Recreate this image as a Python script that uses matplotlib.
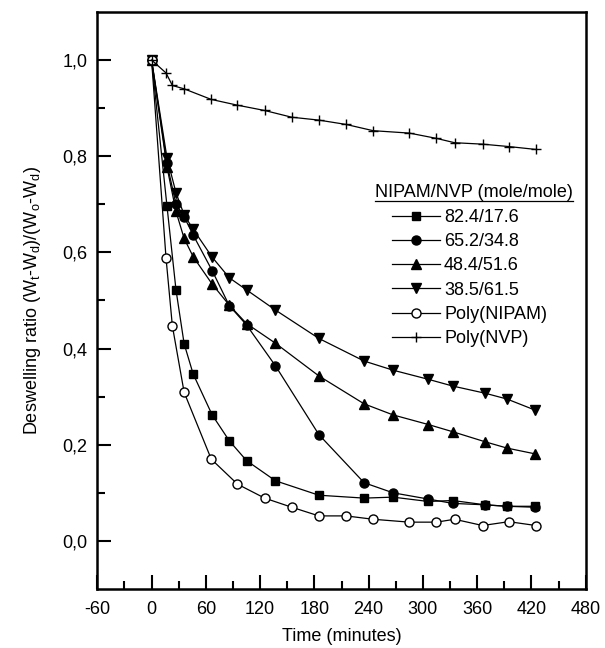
import matplotlib
matplotlib.use("Agg")
import matplotlib.pyplot as plt
from matplotlib.ticker import FixedLocator, FuncFormatter

plt.rcParams['font.family'] = ['Liberation Sans', 'DejaVu Sans']
plt.rcParams['font.size'] = 13

# copolymer sampling times (minutes)
t_co = [0, 17, 27, 36, 46, 67, 86, 105, 137, 185, 235, 267, 306, 333, 369, 393, 424]
# homopolymer sampling times (minutes)
t_homo = [0, 16, 23, 36, 66, 95, 125, 155, 185, 215, 245, 285, 315, 335, 366, 395, 425]

r_82 = [1.0, 0.697, 0.522, 0.410, 0.347, 0.262, 0.208, 0.167, 0.125, 0.095, 0.089, 0.091,
        0.082, 0.084, 0.075, 0.072, 0.072]
r_65 = [1.0, 0.785, 0.70, 0.674, 0.636, 0.562, 0.489, 0.449, 0.364, 0.221, 0.121, 0.100,
        0.087, 0.078, 0.075, 0.072, 0.070]
r_48 = [1.0, 0.778, 0.685, 0.629, 0.591, 0.534, 0.490, 0.452, 0.411, 0.343, 0.285, 0.262,
        0.242, 0.227, 0.206, 0.193, 0.181]
r_38 = [1.0, 0.797, 0.724, 0.678, 0.648, 0.590, 0.547, 0.522, 0.480, 0.421, 0.374, 0.355,
        0.336, 0.322, 0.307, 0.295, 0.272]
r_pnipam = [1.0, 0.588, 0.447, 0.309, 0.170, 0.118, 0.089, 0.070, 0.052, 0.052, 0.045,
            0.039, 0.039, 0.045, 0.032, 0.040, 0.032]
r_pnvp = [1.0, 0.973, 0.947, 0.940, 0.918, 0.906, 0.895, 0.881, 0.875, 0.866, 0.853,
          0.848, 0.837, 0.828, 0.825, 0.820, 0.814]

labels = ['82.4/17.6', '65.2/34.8', '48.4/51.6', '38.5/61.5', 'Poly(NIPAM)', 'Poly(NVP)']
legend_title = 'NIPAM/NVP (mole/mole)'

x_major = [-60, 0, 60, 120, 180, 240, 300, 360, 420, 480]
x_minor = [-30, 30, 90, 150, 210, 270, 330, 390, 450]
y_major = [0.0, 0.2, 0.4, 0.6, 0.8, 1.0]
y_minor = [0.1, 0.3, 0.5, 0.7, 0.9]

fig = plt.figure(figsize=(6.05, 6.48), dpi=100)
ax = fig.add_axes([97.3 / 605, 1 - 589 / 648, 488.4 / 605, 577.1 / 648])

lw = 0.9
ax.plot(t_co, r_82, '-', color='black', lw=lw, marker='s', ms=5.5, mfc='black', mec='black', label=labels[0])
ax.plot(t_co, r_65, '-', color='black', lw=lw, marker='o', ms=6.5, mfc='black', mec='black', label=labels[1])
ax.plot(t_co, r_48, '-', color='black', lw=lw, marker='^', ms=7.5, mfc='black', mec='black', label=labels[2])
ax.plot(t_co, r_38, '-', color='black', lw=lw, marker='v', ms=7.5, mfc='black', mec='black', label=labels[3])
ax.plot(t_homo, r_pnipam, '-', color='black', lw=lw, marker='o', ms=6.5, mfc='white', mec='black', mew=1.0, label=labels[4])
ax.plot(t_homo, r_pnvp, '-', color='black', lw=lw, marker='+', ms=7, mec='black', mew=1.0, label=labels[5])

ax.set_xlim(-60, 480)
ax.set_ylim(-0.1, 1.1)
ax.xaxis.set_major_locator(FixedLocator(x_major))
ax.xaxis.set_minor_locator(FixedLocator(x_minor))
ax.yaxis.set_major_locator(FixedLocator(y_major))
ax.yaxis.set_minor_locator(FixedLocator(y_minor))
ax.yaxis.set_major_formatter(FuncFormatter(lambda v, p: f"{v:.1f}".replace('.', ',')))
ax.xaxis.set_major_formatter(FuncFormatter(lambda v, p: f"{int(v)}"))

ax.tick_params(which='both', direction='in', top=False, right=False, labelsize=13)
ax.tick_params(which='major', length=10, width=1.5)
ax.tick_params(which='minor', length=6, width=1.5)
ax.tick_params(axis='x', which='major', pad=9)
ax.tick_params(axis='y', which='major', pad=7)
for s in ax.spines.values():
    s.set_linewidth(1.8)

ax.set_xlabel('Time (minutes)', fontsize=13, labelpad=7)
ax.set_ylabel(r'Deswelling ratio (W$_\mathregular{t}$-W$_\mathregular{d}$)/(W$_\mathregular{o}$-W$_\mathregular{d}$)',
              fontsize=13, labelpad=14)

# legend title with underline
tx0 = (375 - 97.3) / 488.4
tx1 = (573 - 97.3) / 488.4
ax.text(tx0, (589 - 197) / 577.1, legend_title, transform=ax.transAxes, fontsize=13,
        ha='left', va='baseline')
ax.plot([tx0, tx1], [(589 - 201) / 577.1] * 2, transform=ax.transAxes, color='black',
        lw=0.9, clip_on=False)

leg = ax.legend(loc='upper left', bbox_to_anchor=((391.7 - 97.3) / 488.4, (589 - 209) / 577.1),
                frameon=False, fontsize=13, handlelength=2.7, handletextpad=0.2,
                labelspacing=0.40, borderpad=0, borderaxespad=0)

fig.savefig('out.png', dpi=100)
